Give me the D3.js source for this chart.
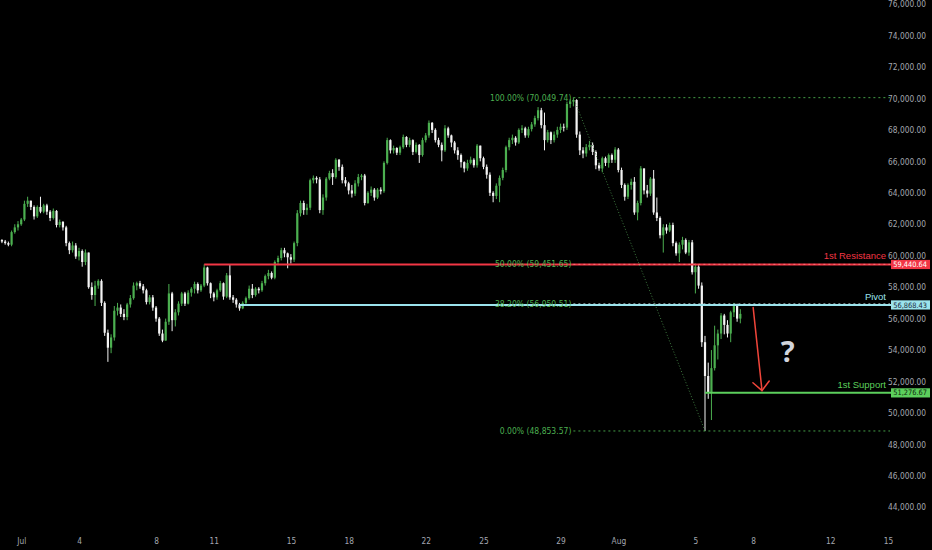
<!DOCTYPE html>
<html lang="en">

<head>
    <meta charset="UTF-8">
    <meta name="viewport" content="width=device-width, initial-scale=1.0">
    <title>BTCUSD 4h - pivot / resistance / support</title>
    <script src="https://cdn.jsdelivr.net/npm/d3@7"></script>
    <style>
        html,
        body {
            margin: 0;
            padding: 0;
            background: #000;
        }

        #chart {
            width: 932px;
            height: 550px;
        }

        .axis text {
            fill: #a3a6af;
            font-family: "Liberation Sans Narrow", "DejaVu Sans Condensed", sans-serif;
            font-size: 8.3px;
        }
    </style>
</head>

<body>
    <div id="chart"></div>
</body>

<script>
    // 4h candles, first one opens 2024-06-30 00:00 UTC. prices in thousands of USD
    const firstOpen = 61.0;
    const closes = [
        60.9, 60.8, 60.7, 61.5, 61.8, 62.0,         // Jun 30
        62.3, 63.3, 63.5, 63.1, 62.5, 63.1,         // Jul 1
        62.8, 63.2, 62.8, 62.4, 62.85, 61.95,
        62.15, 61.8, 60.8, 60.35, 60.65, 59.95,
        60.3, 59.6, 60.2, 58.0, 57.5, 58.1,         // Jul 4
        58.4, 57.0, 55.1, 54.15, 54.8, 56.5,
        56.7, 56.3, 56.1, 56.9, 57.3, 58.1,
        58.25, 58.05, 57.8, 57.05, 57.35, 56.7,
        56.0, 55.05, 54.6, 55.8, 57.6, 55.9,        // Jul 8
        56.4, 56.95, 57.6, 56.95, 57.65, 57.9,
        58.2, 57.8, 58.1, 59.25, 58.25, 57.6,
        57.35, 57.8, 58.25, 57.4, 58.75, 57.35,     // Jul 11
        57.2, 56.9, 56.65, 57.0, 57.3, 57.9,
        57.5, 57.9, 57.8, 58.25, 58.7, 58.9,
        58.6, 59.6, 59.85, 60.35, 60.15, 59.9,
        59.75, 60.8, 62.7, 63.35, 62.9, 63.05,      // Jul 15
        64.8, 64.95, 64.85, 62.9, 63.7, 64.9,
        65.25, 65.0, 66.1, 65.65, 64.8, 64.6,
        64.15, 63.95, 64.6, 65.0, 65.1, 63.35,      // Jul 18
        64.0, 64.2, 63.7, 64.2, 64.1, 65.9,
        67.35, 66.7, 66.85, 66.55, 66.9, 67.55,
        67.05, 67.35, 66.6, 67.05, 66.4, 67.35,
        67.65, 68.45, 68.0, 67.35, 67.05, 66.7,     // Jul 22
        68.1, 67.65, 67.2, 66.7, 66.4, 65.95,
        65.55, 65.9, 66.1, 65.75, 67.0, 66.2,
        65.65, 65.15, 64.0, 63.8, 64.45, 64.95,     // Jul 25
        65.45, 66.9, 67.35, 67.5, 67.2, 68.0,
        68.1, 67.65, 68.05, 68.35, 68.75, 69.25,
        68.3, 67.35, 67.85, 67.35, 67.7, 68.0,
        68.2, 68.15, 69.65, 69.8, 69.9, 67.7,       // Jul 29
        66.7, 66.5, 66.9, 67.05, 66.6, 65.75,
        65.55, 66.2, 65.9, 66.4, 66.1, 66.75,
        65.45, 64.5, 63.75, 64.5, 64.7, 62.75,      // Aug 1
        63.35, 65.55, 64.15, 63.95, 64.9, 62.75,
        62.4, 61.3, 61.8, 61.6, 61.95, 60.8,
        60.15, 60.7, 61.0, 60.2, 60.85, 58.95,
        59.3, 58.1, 54.5, 52.35, 51.3, 52.85,       // Aug 5
        54.3, 55.05, 56.2, 55.6, 55.05, 56.4,
        56.8, 56.0, 56.3                            // Aug 7
    ];
    const highs = [
        61.05, 61.0, 60.9, 61.6, 62.0, 62.2,
        62.4, 63.5, 63.75, 63.4, 63.2, 63.2,
        63.75, 63.3, 63.3, 62.9, 63.0, 62.9,
        62.3, 62.2, 61.9, 60.9, 60.9, 60.8,
        60.5, 60.4, 60.4, 60.2, 58.3, 58.4,
        58.5, 58.5, 57.1, 55.3, 55.0, 56.8,
        57.0, 56.9, 56.6, 57.0, 57.5, 58.3,
        58.35, 58.4, 58.2, 57.9, 57.5, 57.5,
        56.8, 56.1, 55.3, 56.0, 58.2, 57.7,
        56.6, 57.1, 57.7, 57.7, 57.8, 58.0,
        58.35, 58.3, 58.2, 59.45, 59.3, 58.3,
        57.7, 57.9, 58.4, 58.3, 58.9, 59.44,
        57.5, 57.3, 57.0, 57.1, 57.4, 58.1,
        58.2, 58.0, 58.0, 58.4, 58.8, 59.1,
        59.0, 59.7, 60.0, 60.5, 60.5, 60.2,
        60.1, 60.9, 62.9, 63.5, 63.5, 63.3,
        64.9, 65.1, 65.05, 65.0, 63.9, 65.0,
        65.4, 65.5, 66.2, 66.15, 65.8, 65.0,
        64.7, 64.5, 64.8, 65.2, 65.2, 65.2,
        64.1, 64.4, 64.3, 64.3, 64.35, 66.0,
        67.5, 67.4, 67.0, 66.9, 67.0, 67.7,
        67.6, 67.5, 67.4, 67.2, 67.1, 67.5,
        67.8, 68.6, 68.5, 68.1, 67.5, 67.2,
        68.3, 68.2, 67.7, 67.3, 66.9, 66.5,
        66.0, 66.1, 66.3, 66.2, 67.1, 67.0,
        66.3, 65.8, 65.3, 64.1, 64.6, 65.1,
        65.6, 67.0, 67.5, 67.7, 67.6, 68.1,
        68.3, 68.2, 68.2, 68.5, 68.9, 69.45,
        69.4, 69.1, 68.0, 67.9, 67.9, 68.2,
        68.4, 68.4, 69.8, 69.95, 70.04974, 69.95,
        67.9, 66.9, 67.1, 67.3, 67.2, 66.7,
        65.9, 66.3, 66.3, 66.5, 66.5, 66.9,
        66.85, 65.6, 64.6, 64.6, 64.9, 65.0,
        63.5, 65.7, 65.5, 64.5, 65.0, 65.45,
        63.7, 62.5, 62.0, 62.0, 62.1, 62.1,
        60.9, 60.85, 61.2, 61.1, 61.0, 61.0,
        59.5, 59.4, 58.3, 54.9, 53.2, 54.0,
        55.55, 55.3, 56.35, 56.3, 55.9, 56.5,
        57.0, 56.95, 56.6
    ];
    const lows = [
        60.8, 60.7, 60.6, 60.6, 61.4, 61.6,
        61.9, 62.2, 63.1, 62.9, 62.3, 62.4,
        62.7, 62.7, 62.6, 62.2, 62.3, 61.8,
        61.8, 61.6, 60.6, 60.1, 60.2, 59.8,
        59.7, 59.3, 59.4, 57.9, 57.2, 56.8,
        57.9, 56.8, 54.9, 53.25, 53.8, 54.6,
        56.2, 56.1, 55.9, 55.9, 56.7, 57.2,
        57.8, 57.9, 57.6, 56.9, 56.9, 56.5,
        55.8, 54.9, 54.5, 54.6, 55.6, 55.2,
        55.5, 56.2, 56.8, 56.8, 56.9, 57.4,
        57.6, 57.6, 57.7, 58.0, 58.1, 57.3,
        57.1, 57.2, 57.7, 57.2, 57.3, 57.2,
        57.0, 56.7, 56.5, 56.6, 56.9, 57.2,
        57.3, 57.4, 57.6, 57.7, 58.1, 58.5,
        58.5, 58.5, 59.4, 59.7, 59.9, 59.2,
        59.5, 59.6, 60.6, 62.5, 62.6, 62.6,
        62.9, 64.6, 64.6, 62.7, 62.6, 63.5,
        64.8, 64.5, 64.9, 65.4, 64.6, 64.4,
        63.9, 63.7, 63.8, 64.4, 64.8, 63.2,
        63.3, 63.8, 63.5, 63.6, 63.9, 64.0,
        65.8, 66.5, 66.5, 66.4, 66.4, 66.8,
        66.9, 66.9, 66.4, 66.5, 65.9, 66.3,
        67.2, 67.5, 67.8, 67.2, 66.9, 66.0,
        66.6, 67.5, 66.9, 66.5, 66.1, 65.6,
        65.3, 65.4, 65.8, 65.6, 65.6, 66.0,
        65.5, 64.9, 63.8, 63.4, 63.6, 63.4,
        64.8, 65.3, 66.7, 67.1, 67.0, 67.1,
        67.8, 67.5, 67.5, 67.9, 68.2, 68.6,
        68.1, 66.7, 67.2, 67.1, 67.2, 67.5,
        67.8, 67.9, 68.0, 69.4, 69.5, 67.5,
        66.4, 66.2, 66.3, 66.7, 66.4, 65.5,
        65.4, 65.3, 65.7, 65.6, 65.9, 65.9,
        65.3, 64.3, 63.5, 63.6, 64.2, 62.6,
        62.25, 63.2, 63.9, 63.7, 63.8, 62.6,
        62.2, 61.1, 60.2, 61.4, 61.5, 60.6,
        60.0, 59.6, 60.4, 60.1, 60.0, 58.8,
        57.6, 57.9, 54.2, 48.85357, 50.9, 49.55,
        52.7, 53.4, 54.7, 55.0, 54.8, 54.5,
        56.1, 55.8, 55.7
    ];

    // horizontal levels drawn by the author
    const levelNames = ["1st Resistance", "Pivot", "1st Support"];
    const levelValues = [59440.64, 56868.43, 51276.67];
    const levelStartCandle = [63, 74, 219];      // candle where each line begins

    // fib retracement from the Jul 29 high to the Aug 5 low
    const fibHigh = 70049.74;
    const fibLow = 48853.57;
    const fibRatios = [1, 0.5, 0.382, 0];
    const fibHighCandle = 178;
    const fibLowCandle = 219;

    // projected move arrow and question mark (time, price)
    const arrowFrom = ["2024-08-08T00:00Z", 56700];
    const arrowTo = ["2024-08-08T11:00Z", 51420];
    const questionAt = ["2024-08-09T19:00Z", 53250];

    // axis ticks
    const priceTicks = d3.range(44000, 76001, 2000);
    const dateTicks = ["2024-07-01", "2024-07-04", "2024-07-08", "2024-07-11", "2024-07-15",
        "2024-07-18", "2024-07-22", "2024-07-25", "2024-07-29", "2024-08-01",
        "2024-08-05", "2024-08-08", "2024-08-12", "2024-08-15"];

    let draw = () => {
        let W = 932, H = 550;
        let svg = d3.select("#chart").append("svg")
            .attr("class", "chart")
            .attr("width", W)
            .attr("height", H)
            .style("background", "#000");

        let plotRight = 891;
        let FOUR_H = 4 * 3600 * 1000;
        let t0 = Date.UTC(2024, 5, 30);
        let narrow = '"Liberation Sans Narrow", "DejaVu Sans Condensed", sans-serif';

        let candles = closes.map((c, i) => {
            let o = i === 0 ? firstOpen : closes[i - 1];
            return {
                t: new Date(t0 + i * FOUR_H),
                o: o * 1000,
                c: c * 1000,
                h: Math.max(highs[i], o, c) * 1000,
                l: Math.min(lows[i], o, c) * 1000
            };
        });

        /*scales*/
        let x = d3.scaleUtc()
            .domain([new Date("2024-07-04T00:00Z"), new Date("2024-08-15T00:00Z")])
            .range([79, 888]);
        let y = d3.scaleLinear()
            .domain([44000, 76000])
            .range([507.3, 4.1]);

        let cx = (i) => x(candles[i].t);
        let fmt = d3.format(",.2f");

        /*price axis (tags are drawn on top of it later)*/
        let yAxis = d3.axisLeft(y)
            .tickValues(priceTicks)
            .tickFormat(fmt)
            .tickSize(0)
            .tickPadding(0);
        svg.append("g")
            .attr("class", "axis yaxis")
            .attr("transform", "translate(926,0)")
            .call(yAxis)
            .call((g) => g.select(".domain").remove());

        /*time axis*/
        let xAxis = d3.axisBottom(x)
            .tickValues(dateTicks.map((d) => new Date(d + "T00:00Z")))
            .tickFormat((d) => d.getUTCDate() === 1 ? d3.utcFormat("%b")(d) : d.getUTCDate())
            .tickSize(0)
            .tickPadding(2);
        svg.append("g")
            .attr("class", "axis xaxis")
            .attr("transform", "translate(0,536)")
            .call(xAxis)
            .call((g) => g.select(".domain").remove());

        let plot = svg.append("g").attr("class", "plot");
        plot.append("defs").append("clipPath")
            .attr("id", "clip")
            .append("rect")
            .attr("width", plotRight)
            .attr("height", H);

        /*candles*/
        let green = "#4caf50", white = "#f4f4f4";
        let cg = plot.append("g").attr("clip-path", "url(#clip)");
        let cd = cg.selectAll(".candle")
            .data(candles)
            .enter()
            .append("g")
            .attr("class", "candle");
        cd.append("line")
            .attr("x1", (d) => x(d.t)).attr("x2", (d) => x(d.t))
            .attr("y1", (d) => y(d.h)).attr("y2", (d) => y(d.l))
            .attr("stroke", (d) => d.c >= d.o ? green : white)
            .attr("stroke-width", 1);
        cd.append("rect")
            .attr("x", (d) => x(d.t) - 1.1)
            .attr("width", 2.2)
            .attr("y", (d) => y(Math.max(d.o, d.c)))
            .attr("height", (d) => Math.max(1, Math.abs(y(d.o) - y(d.c))))
            .attr("fill", (d) => d.c >= d.o ? green : white);

        /*level lines under the fib dots*/
        let levelColor = ["#f23645", "#9be3ec", "#5ccf5c"];
        let tagText = ["#ffffff", "#1b2a3a", "#0f2a0f"];
        let lv = plot.append("g").attr("class", "levels");
        levelValues.forEach((v, k) => {
            lv.append("line")
                .attr("x1", cx(levelStartCandle[k])).attr("x2", plotRight)
                .attr("y1", y(v)).attr("y2", y(v))
                .attr("stroke", levelColor[k])
                .attr("stroke-width", 2);
        });

        /*fib retracement*/
        let fibColor = "#4caf50";
        let fx0 = cx(fibHighCandle);
        plot.append("line")
            .attr("x1", fx0).attr("y1", y(fibHigh))
            .attr("x2", cx(fibLowCandle)).attr("y2", y(fibLow))
            .attr("stroke", "#3f7a40")
            .attr("stroke-width", 1)
            .attr("stroke-dasharray", "1,2");

        let fibOverlay = ["#4caf50", "#ff9a9a", "#d6f5fa", "#4caf50"];
        fibRatios.forEach((r, k) => {
            let v = fibLow + r * (fibHigh - fibLow);
            plot.append("line")
                .attr("x1", fx0).attr("x2", plotRight - 1)
                .attr("y1", y(v)).attr("y2", y(v))
                .attr("stroke", fibOverlay[k])
                .attr("stroke-width", 1)
                .attr("stroke-dasharray", "2,3")
                .attr("opacity", r === 0 || r === 1 ? 0.9 : 0.6);
            plot.append("text")
                .attr("x", fx0 - 2)
                .attr("y", y(v))
                .attr("dy", "0.35em")
                .attr("text-anchor", "end")
                .attr("fill", fibColor)
                .style("font-family", narrow)
                .style("font-size", "8.5px")
                .text((r * 100).toFixed(2) + "% (" + fmt(v) + ")");
        });

        /*level names and price tags*/
        levelValues.forEach((v, k) => {
            let ly = y(v);
            plot.append("text")
                .attr("x", 886)
                .attr("y", ly - 5)
                .attr("text-anchor", "end")
                .attr("fill", levelColor[k])
                .style("font-family", '"Liberation Sans", Arial, sans-serif')
                .style("font-size", "9.5px")
                .text(levelNames[k]);
            svg.append("rect")
                .attr("x", 891).attr("y", ly - 4.6)
                .attr("width", 39).attr("height", 9.2)
                .attr("fill", levelColor[k]);
            svg.append("text")
                .attr("x", 927)
                .attr("y", ly)
                .attr("dy", "0.35em")
                .attr("text-anchor", "end")
                .attr("fill", tagText[k])
                .style("font-family", narrow)
                .style("font-size", "7.4px")
                .text(fmt(v));
        });

        /*projected move*/
        let ax0 = x(new Date(arrowFrom[0])), ay0 = y(arrowFrom[1]);
        let ax1 = x(new Date(arrowTo[0])), ay1 = y(arrowTo[1]);
        let ang = Math.atan2(ay1 - ay0, ax1 - ax0);
        let head = 12, spread = 0.75;
        let arrow = plot.append("g")
            .attr("stroke", "#f0453a")
            .attr("stroke-width", 1.5)
            .attr("fill", "none")
            .attr("stroke-linecap", "round");
        arrow.append("line")
            .attr("x1", ax0).attr("y1", ay0).attr("x2", ax1).attr("y2", ay1);
        arrow.append("polyline")
            .attr("points", [
                [ax1 - head * Math.cos(ang - spread), ay1 - head * Math.sin(ang - spread)],
                [ax1, ay1],
                [ax1 - head * Math.cos(ang + spread), ay1 - head * Math.sin(ang + spread)]
            ].map((p) => p.join(",")).join(" "));

        plot.append("text")
            .attr("x", x(new Date(questionAt[0])))
            .attr("y", y(questionAt[1]))
            .attr("text-anchor", "middle")
            .attr("fill", "#d1d4dc")
            .style("font-family", '"Noto Sans", sans-serif')
            .style("font-weight", "bold")
            .style("font-size", "29px")
            .text("?");
    }

    draw();
</script>

</html>
